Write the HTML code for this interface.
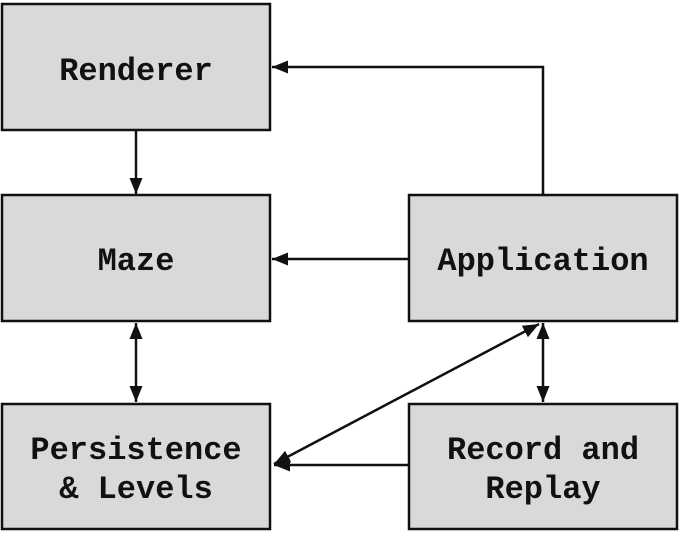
<!DOCTYPE html>
<html><head><style>
body{margin:0;background:#fff;}
svg{display:block;}
text{font-family:"Liberation Mono","Courier New",monospace;font-weight:bold;font-size:32px;fill:#111;text-anchor:middle;}
rect{fill:#d9d9d9;stroke:#111;stroke-width:2.5;}
line,polyline{stroke:#111;stroke-width:2.5;fill:none;}
</style></head><body>
<svg width="680" height="557" viewBox="0 0 680 557">
<defs>
<marker id="a" viewBox="0 0 10 10" refX="10" refY="5" markerWidth="16" markerHeight="13" markerUnits="userSpaceOnUse" orient="auto-start-reverse" preserveAspectRatio="none">
<path d="M0,0 L10,5 L0,10 z" fill="#111"/>
</marker>
</defs>
<rect x="2" y="4" width="268" height="126"/>
<rect x="2" y="195" width="268" height="126"/>
<rect x="2" y="404" width="268" height="125"/>
<rect x="409" y="195" width="268" height="126"/>
<rect x="409" y="404" width="268" height="125"/>
<text x="136" y="80">Renderer</text>
<text x="136" y="270">Maze</text>
<text x="543" y="270">Application</text>
<text x="136" y="459">Persistence</text>
<text x="136" y="498">&amp; Levels</text>
<text x="543" y="459">Record and</text>
<text x="543" y="498">Replay</text>
<line x1="136" y1="130" x2="136" y2="194" marker-end="url(#a)"/>
<polyline points="543,195 543,67 272,67" marker-end="url(#a)"/>
<line x1="409" y1="259" x2="272" y2="259" marker-end="url(#a)"/>
<line x1="136" y1="323" x2="136" y2="402" marker-start="url(#a)" marker-end="url(#a)"/>
<line x1="543" y1="323" x2="543" y2="402" marker-start="url(#a)" marker-end="url(#a)"/>
<line x1="539" y1="324" x2="274" y2="464" marker-start="url(#a)" marker-end="url(#a)"/>
<line x1="409" y1="465" x2="274" y2="465" marker-end="url(#a)"/>
</svg>
</body></html>
